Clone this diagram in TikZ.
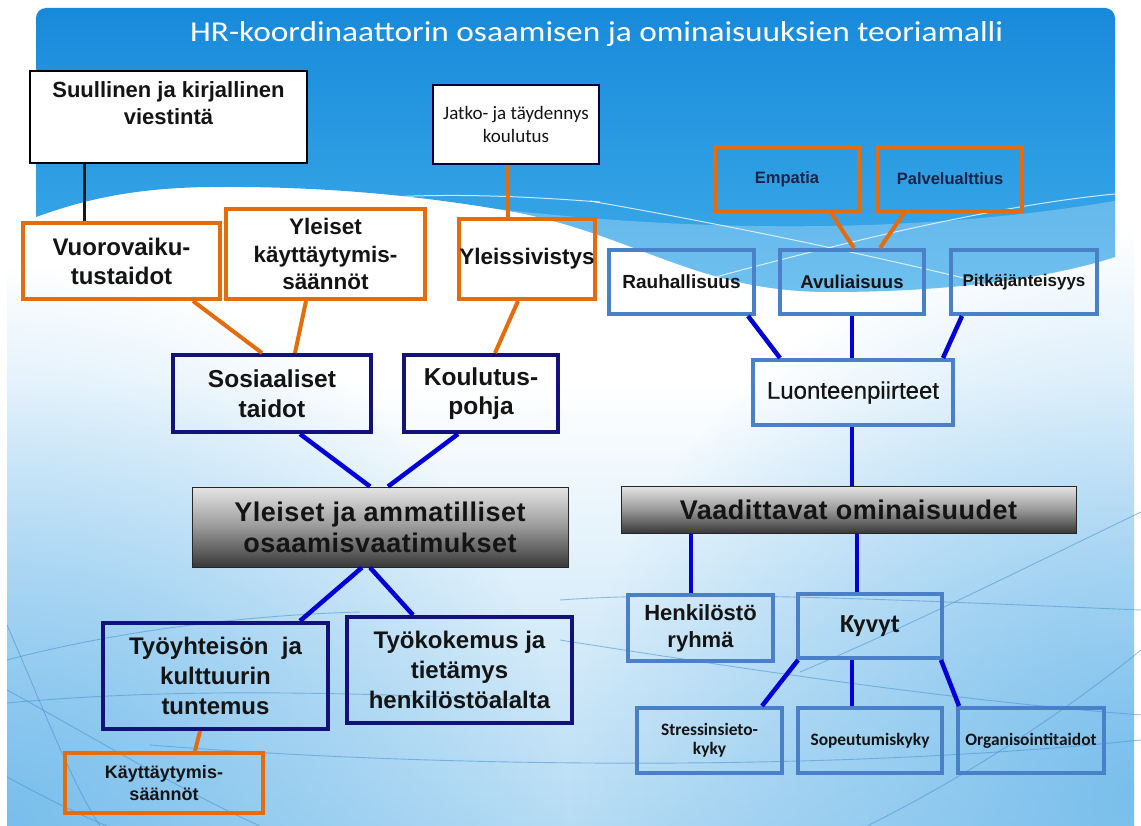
\documentclass[tikz,border=0pt]{standalone}
\usepackage{fontspec}
\setmainfont{Liberation Sans}
\newfontfamily\calfam{Carlito}
\newfontfamily\semib[FakeBold=0.5]{Liberation Sans}
\usepackage{graphicx}
\usetikzlibrary{fadings}
\definecolor{orng}{RGB}{228,108,10}
\definecolor{navy}{RGB}{18,18,122}
\definecolor{lblue}{RGB}{74,128,200}
\definecolor{conblue}{RGB}{0,0,215}
\definecolor{hdtop}{RGB}{24,138,218}
\definecolor{hdbot}{RGB}{62,172,234}
\definecolor{bgblue}{RGB}{182,220,244}
\definecolor{cornblue}{RGB}{110,185,235}
\definecolor{curvec}{RGB}{70,145,205}
\definecolor{txtnavy}{RGB}{25,35,70}
\newcommand\fnt[2]{\fontsize{#1pt}{#2pt}\selectfont}
\tikzfading[name=myfade, inner color=transparent!0, outer color=transparent!100]
\begin{document}
\begin{tikzpicture}[x=1pt,y=-1pt,
  boxbase/.style={rectangle, inner sep=0pt, align=center, text=black!92},
  obox/.style={boxbase, draw=orng, line width=4pt},
  nbox/.style={boxbase, draw=navy, line width=4pt},
  lbox/.style={boxbase, draw=lblue, line width=4pt},
  gbox/.style={boxbase, draw=black!85, line width=1pt, top color=black!10, bottom color=black!78, middle color=black!40},
  ocon/.style={draw=orng, line width=4pt},
  bcon/.style={draw=conblue, line width=4.5pt},
  kcon/.style={draw=black!90, line width=3pt},
  bgcurve/.style={draw=curvec, line width=0.9pt, opacity=0.55},
  hdline/.style={draw=white, line width=1pt, opacity=0.75},
]
\useasboundingbox (0,0) rectangle (1141,826);
\fill[white] (0,0) rectangle (1141,826);
% lower slide background
\begin{scope}
  \clip (7,180) rectangle (1134,826);
  \shade[top color=white, bottom color=bgblue] (7,380) rectangle (1134,826);
  \fill[white] (7,180) rectangle (1134,381);
  \fill[cornblue, opacity=0.85, path fading=myfade] (7,826) circle [radius=560];
  \fill[cornblue, opacity=0.85, path fading=myfade] (1134,790) circle [radius=560];
\end{scope}
% background curves
\draw[bgcurve] (7,625) .. controls (40,700) and (70,780) .. (100,826);
\draw[bgcurve] (7,660) .. controls (120,630) and (250,615) .. (360,612);
\draw[bgcurve] (7,703) .. controls (150,690) and (300,690) .. (520,700);
\draw[bgcurve] (7,690) .. controls (80,730) and (180,790) .. (260,826);
\draw[bgcurve] (7,777) .. controls (40,795) and (80,815) .. (107,826);
\draw[bgcurve] (150,745) .. controls (400,765) and (800,775) .. (1141,740);
\draw[bgcurve] (800,672) .. controls (900,630) and (1000,580) .. (1141,512);
\draw[bgcurve] (867,826) .. controls (980,770) and (1080,700) .. (1141,650);
\draw[bgcurve] (560,640) .. controls (750,670) and (950,700) .. (1141,715);
\draw[bgcurve] (560,600) .. controls (700,590) and (900,600) .. (1141,610);
% header
\shade[top color=hdtop, bottom color=hdbot]
  (36,217) -- (36,18) .. controls (36,12.5) and (40.5,8) .. (46,8) -- (1105,8)
  .. controls (1110.5,8) and (1115,12.5) .. (1115,18) -- (1115,257)
  .. controls (1050,278) and (950,292) .. (830,292)
  .. controls (700,292) and (640,238) .. (520,213)
  .. controls (420,195) and (320,186) .. (210,187)
  .. controls (120,188) and (70,205) .. (36,217) -- cycle;
\begin{scope}
  \clip (36,217) -- (36,8) -- (1115,8) -- (1115,257)
  .. controls (1050,278) and (950,292) .. (830,292)
  .. controls (700,292) and (640,238) .. (520,213)
  .. controls (420,195) and (320,186) .. (210,187)
  .. controls (120,188) and (70,205) .. (36,217) -- cycle;
  \fill[white, opacity=0.25] (430,200) .. controls (650,232) and (900,238) .. (1120,200) -- (1120,320) -- (430,320) -- cycle;
  \draw[hdline] (590,201) .. controls (700,220) and (850,250) .. (980,282);
  \draw[hdline] (690,284) .. controls (850,240) and (1000,205) .. (1115,194);
  \draw[hdline] (370,198) .. controls (450,193) and (520,196) .. (600,202);
\end{scope}
% title
\node[anchor=base west, text=white, inner sep=0pt] (title) at (190,42)
  {\resizebox{813pt}{20pt}{\calfam HR-koordinaattorin osaamisen ja ominaisuuksien teoriamalli}};

% ---- left boxes
\node[boxbase, draw=black, line width=2.5pt, fill=white, minimum width=277pt, minimum height=92pt] (suul) at (168.5,117)
  {\parbox[c][92pt][t]{270pt}{\centering\bfseries\fnt{22}{27}\rule{0pt}{27pt}Suullinen ja kirjallinen\\viestintä}};
\node[boxbase, draw=black!75!blue, line width=1.5pt, fill=white, font=\calfam\fnt{19}{23}, minimum width=166pt, minimum height=79pt] (jatko) at (516,124.5)
  {Jatko- ja täydennys\\koulutus};
\node[obox, font=\bfseries\fnt{24}{29}, minimum width=197pt, minimum height=76pt] (vuoro) at (121.5,261) {Vuorovaiku-\\tustaidot};
\node[obox, font=\bfseries\fnt{22.5}{27.5}, minimum width=199pt, minimum height=90pt] (ykay) at (325.5,254) {Yleiset\\käyttäytymis-\\säännöt};
\node[obox, font=\bfseries\fnt{22.5}{27}, minimum width=136pt, minimum height=80pt] (yleis) at (527,259) {Yleissivistys};
\node[nbox, font=\bfseries\fnt{24.5}{29.5}, minimum width=198pt, minimum height=77pt] (sos) at (272,393.5) {Sosiaaliset\\taidot};
\node[nbox, font=\bfseries\fnt{24.5}{29.5}, minimum width=154pt, minimum height=77pt] (kou) at (481,393.5) {Koulutus-\\pohja};
\node[gbox, font=\bfseries\fnt{27}{31}\addfontfeatures{LetterSpace=2}, minimum width=376pt, minimum height=80pt] (yam) at (380,527) {Yleiset ja ammatilliset\\osaamisvaatimukset};
\node[nbox, font=\bfseries\fnt{24}{30}, minimum width=225pt, minimum height=106pt] (tyy) at (215.5,676) {Työyhteisön\ \ ja\\kulttuurin\\tuntemus};
\node[nbox, font=\bfseries\fnt{24}{30}, minimum width=225pt, minimum height=106pt] (tyk) at (459.5,670) {Työkokemus ja\\tietämys\\henkilöstöalalta};
\node[obox, font=\bfseries\fnt{18}{22}, minimum width=198pt, minimum height=60pt] (kay) at (164,783) {Käyttäytymis-\\säännöt};

% ---- right boxes
\node[obox, font=\bfseries\fnt{16.5}{20}, minimum width=144pt, minimum height=64pt, text=txtnavy] (emp) at (787,179) {Empatia};
\node[obox, font=\bfseries\fnt{16.5}{20}, minimum width=144pt, minimum height=64pt, text=txtnavy] (pal) at (950,179) {Palvelualttius};
\node[lbox, font=\bfseries\fnt{19}{23}, minimum width=145pt, minimum height=64pt] (rau) at (681.5,282) {Rauhallisuus};
\node[lbox, font=\bfseries\fnt{18.5}{22}, minimum width=144pt, minimum height=64pt] (avu) at (852,282) {Avuliaisuus};
\node[lbox, font=\bfseries\fnt{17}{21}, minimum width=146pt, minimum height=64pt] (pit) at (1024,282) {Pitkäjänteisyys};
\node[lbox, font=\semib\fnt{24}{28}, minimum width=200pt, minimum height=65pt] (luo) at (853,392.5) {Luonteenpiirteet};
\node[gbox, font=\bfseries\fnt{27}{32}\addfontfeatures{LetterSpace=2}, minimum width=455pt, minimum height=47pt] (vaa) at (848.5,509.5) {Vaadittavat ominaisuudet};
\node[lbox, font=\bfseries\fnt{22}{27}, minimum width=145pt, minimum height=66pt] (hen) at (700.5,628) {Henkilöstö\\ryhmä};
\node[lbox, font=\calfam\bfseries\fnt{26}{30}, minimum width=144pt, minimum height=64pt] (kyv) at (870,626) {Kyvyt};
\node[lbox, font=\calfam\bfseries\fnt{17.4}{19}, minimum width=145pt, minimum height=65pt] (str) at (709.5,740.5) {Stressinsieto-\\kyky};
\node[lbox, font=\calfam\bfseries\fnt{17.4}{20}, minimum width=144pt, minimum height=65pt] (sop) at (870,740.5) {Sopeutumiskyky};
\node[lbox, font=\calfam\bfseries\fnt{17.4}{20}, minimum width=146pt, minimum height=65pt] (org) at (1031,740.5) {Organisointitaidot};

% ---- connectors left
\draw[kcon] (suul.south -| 84,0) -- (vuoro.north -| 84,0);
\draw[ocon] (jatko.south -| 508,0) -- (yleis.north -| 508,0);
\draw[ocon] (vuoro.south -| 193,0) -- (sos.north -| 262,0);
\draw[ocon] (ykay.south -| 306,0) -- (sos.north -| 295,0);
\draw[ocon] (yleis.south -| 518,0) -- (kou.north -| 495,0);
\draw[bcon] (sos.south -| 300,0) -- (yam.north -| 370,0);
\draw[bcon] (kou.south -| 458,0) -- (yam.north -| 388,0);
\draw[bcon] (yam.south -| 362,0) -- (tyy.north -| 300,0);
\draw[bcon] (yam.south -| 370,0) -- (tyk.north -| 413,0);
\draw[ocon] (tyy.south -| 200,0) -- (kay.north -| 195,0);
% ---- connectors right
\draw[ocon] (emp.south -| 831,0) -- (avu.north -| 854,0);
\draw[ocon] (pal.south -| 904,0) -- (avu.north -| 880,0);
\draw[bcon] (rau.south -| 748,0) -- (luo.north -| 780,0);
\draw[bcon] (avu.south -| 852,0) -- (luo.north -| 852,0);
\draw[bcon] (pit.south -| 962,0) -- (luo.north -| 943,0);
\draw[bcon] (luo.south -| 852,0) -- (vaa.north -| 852,0);
\draw[bcon] (vaa.south -| 691,0) -- (hen.north -| 691,0);
\draw[bcon] (vaa.south -| 857,0) -- (kyv.north -| 857,0);
\draw[bcon] (kyv.south -| 798,0) -- (str.north -| 762,0);
\draw[bcon] (kyv.south -| 852,0) -- (sop.north -| 852,0);
\draw[bcon] (kyv.south -| 941,0) -- (org.north -| 959,0);
\end{tikzpicture}
\end{document}
